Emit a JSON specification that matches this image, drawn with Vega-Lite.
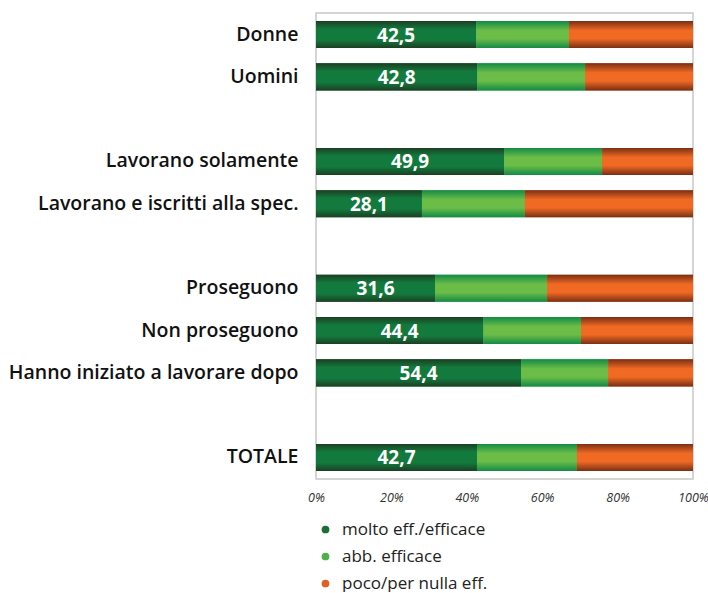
{
  "$schema": "https://vega.github.io/schema/vega-lite/v6.json",
  "width": 377,
  "height": 466,
  "padding": {"left": 8, "top": 13, "right": 10, "bottom": 0},
  "config": {
    "view": {"stroke": "#c8c8c8", "strokeWidth": 1.5},
    "font": "Open Sans",
    "locale": {"number": {"decimal": ",", "thousands": ".", "grouping": [3], "currency": ["", " €"]}}
  },
  "data": {"values": [
    {"cat": "Donne", "series": "molto eff./efficace", "order": 1, "v": 42.5},
    {"cat": "Donne", "series": "abb. efficace", "order": 2, "v": 24.6},
    {"cat": "Donne", "series": "poco/per nulla eff.", "order": 3, "v": 32.9},
    {"cat": "Uomini", "series": "molto eff./efficace", "order": 1, "v": 42.8},
    {"cat": "Uomini", "series": "abb. efficace", "order": 2, "v": 28.6},
    {"cat": "Uomini", "series": "poco/per nulla eff.", "order": 3, "v": 28.6},
    {"cat": "Lavorano solamente", "series": "molto eff./efficace", "order": 1, "v": 49.9},
    {"cat": "Lavorano solamente", "series": "abb. efficace", "order": 2, "v": 26.0},
    {"cat": "Lavorano solamente", "series": "poco/per nulla eff.", "order": 3, "v": 24.1},
    {"cat": "Lavorano e iscritti alla spec.", "series": "molto eff./efficace", "order": 1, "v": 28.1},
    {"cat": "Lavorano e iscritti alla spec.", "series": "abb. efficace", "order": 2, "v": 27.3},
    {"cat": "Lavorano e iscritti alla spec.", "series": "poco/per nulla eff.", "order": 3, "v": 44.6},
    {"cat": "Proseguono", "series": "molto eff./efficace", "order": 1, "v": 31.6},
    {"cat": "Proseguono", "series": "abb. efficace", "order": 2, "v": 29.7},
    {"cat": "Proseguono", "series": "poco/per nulla eff.", "order": 3, "v": 38.7},
    {"cat": "Non proseguono", "series": "molto eff./efficace", "order": 1, "v": 44.4},
    {"cat": "Non proseguono", "series": "abb. efficace", "order": 2, "v": 25.9},
    {"cat": "Non proseguono", "series": "poco/per nulla eff.", "order": 3, "v": 29.7},
    {"cat": "Hanno iniziato a lavorare dopo", "series": "molto eff./efficace", "order": 1, "v": 54.4},
    {"cat": "Hanno iniziato a lavorare dopo", "series": "abb. efficace", "order": 2, "v": 23.1},
    {"cat": "Hanno iniziato a lavorare dopo", "series": "poco/per nulla eff.", "order": 3, "v": 22.5},
    {"cat": "TOTALE", "series": "molto eff./efficace", "order": 1, "v": 42.7},
    {"cat": "TOTALE", "series": "abb. efficace", "order": 2, "v": 26.5},
    {"cat": "TOTALE", "series": "poco/per nulla eff.", "order": 3, "v": 30.8}
  ]},
  "transform": [
    {"stack": "v", "groupby": ["cat"], "sort": [{"field": "order"}], "as": ["x0", "x1"], "offset": "normalize"}
  ],
  "encoding": {
    "y": {
      "field": "cat",
      "type": "nominal",
      "title": null,
      "scale": {
        "domain": ["Donne", "Uomini", "gap1", "Lavorano solamente", "Lavorano e iscritti alla spec.", "gap2", "Proseguono", "Non proseguono", "Hanno iniziato a lavorare dopo", "gap3", "TOTALE"],
        "paddingInner": 0.36,
        "paddingOuter": 0.19
      },
      "axis": {
        "labelExpr": "indexof(datum.value, 'gap') === 0 ? '' : datum.value",
        "ticks": false,
        "domain": false,
        "labelPadding": 18,
        "labelFont": "Open Sans",
        "labelFontWeight": 600,
        "labelFontSize": 19.5,
        "labelColor": "#111111",
        "labelLimit": 400,
        "minExtent": 306,
        "maxExtent": 306
      }
    }
  },
  "resolve": {"scale": {"x": "independent"}},
  "layer": [
    {
      "mark": {"type": "bar"},
      "encoding": {
        "x": {
          "field": "x0", "type": "quantitative",
          "scale": {"domain": [0, 1], "nice": false},
          "axis": {
            "format": "%", "values": [0, 0.2, 0.4, 0.6, 0.8, 1],
            "grid": false, "ticks": false, "domain": false,
            "labelFlush": false, "labelBound": false, "labelOverlap": false,
            "labelFont": "Open Sans", "labelFontStyle": "italic", "labelFontSize": 12.5,
            "labelColor": "#333333", "labelPadding": 12, "title": null
          }
        },
        "x2": {"field": "x1"},
        "color": {
          "field": "series", "type": "nominal",
          "scale": {
            "domain": ["molto eff./efficace", "abb. efficace", "poco/per nulla eff."],
            "range": ["#1b6e35", "#4cb148", "#e0601f"]
          },
          "legend": {
            "title": null,
            "orient": "none",
            "direction": "vertical",
            "legendX": 1,
            "legendY": 508,
            "padding": 0,
            "symbolType": "circle",
            "symbolSize": 60,
            "symbolStrokeWidth": 0,
            "labelFont": "Open Sans",
            "labelFontSize": 17,
            "labelColor": "#222222",
            "labelOffset": 8,
            "rowPadding": 9
          }
        }
      }
    },
    {
      "transform": [{"filter": "datum.series === 'molto eff./efficace'"}],
      "mark": {"type": "bar", "color": {"gradient": "linear", "x1": 0, "y1": 0, "x2": 0, "y2": 1, "stops": [
        {"offset": 0, "color": "#1b3f22"}, {"offset": 0.3, "color": "#137a3e"}, {"offset": 0.7, "color": "#137a3e"}, {"offset": 1, "color": "#1b3f22"}]}},
      "encoding": {
        "x": {"field": "x0", "type": "quantitative", "scale": {"domain": [0, 1], "nice": false}, "axis": null},
        "x2": {"field": "x1"}
      }
    },
    {
      "transform": [{"filter": "datum.series === 'abb. efficace'"}],
      "mark": {"type": "bar", "color": {"gradient": "linear", "x1": 0, "y1": 0, "x2": 0, "y2": 1, "stops": [
        {"offset": 0, "color": "#128a45"}, {"offset": 0.35, "color": "#6cbd48"}, {"offset": 0.65, "color": "#6cbd48"}, {"offset": 1, "color": "#128a45"}]}},
      "encoding": {
        "x": {"field": "x0", "type": "quantitative", "scale": {"domain": [0, 1], "nice": false}, "axis": null},
        "x2": {"field": "x1"}
      }
    },
    {
      "transform": [{"filter": "datum.series === 'poco/per nulla eff.'"}],
      "mark": {"type": "bar", "color": {"gradient": "linear", "x1": 0, "y1": 0, "x2": 0, "y2": 1, "stops": [
        {"offset": 0, "color": "#7a2f14"}, {"offset": 0.35, "color": "#f06a24"}, {"offset": 0.65, "color": "#f06a24"}, {"offset": 1, "color": "#7a2f14"}]}},
      "encoding": {
        "x": {"field": "x0", "type": "quantitative", "scale": {"domain": [0, 1], "nice": false}, "axis": null},
        "x2": {"field": "x1"}
      }
    },
    {
      "transform": [{"filter": "datum.series === 'molto eff./efficace'"}],
      "mark": {"type": "text", "color": "white", "font": "Open Sans", "fontWeight": "bold", "fontSize": 19, "align": "center", "baseline": "middle", "dy": 1},
      "encoding": {
        "x": {"field": "v", "type": "quantitative", "scale": {"domain": [0, 200], "nice": false}, "axis": null},
        "text": {"field": "v", "type": "quantitative", "format": ".1f"}
      }
    }
  ]
}
